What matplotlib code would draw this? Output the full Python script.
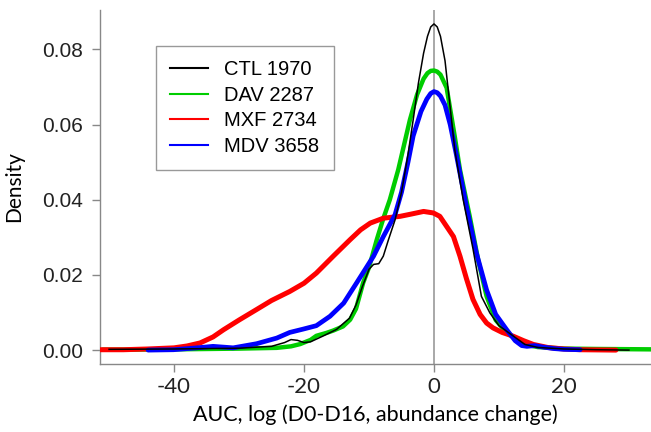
import matplotlib
matplotlib.use("Agg")
import matplotlib.pyplot as plt
from matplotlib.lines import Line2D

plt.rcParams['axes.unicode_minus'] = False

# CTL 1970
ctl_x = [-50, -40, -30, -25, -23, -22, -21, -20, -19, -17, -15, -13, -12, -11, -10, -9.3, -8.5,
         -7.8, -7, -6, -5, -4, -3.2, -2.4, -1.6, -1.0, -0.5, 0, 0.5, 1.0, 1.7, 2.7, 3.2, 4.5,
         6, 7.3, 8.6, 10, 12, 14, 16, 20, 25, 30]
ctl_y = [0.0002, 0.0003, 0.0005, 0.001, 0.002, 0.0028, 0.0026, 0.002, 0.0022, 0.0038, 0.0055,
         0.0085, 0.012, 0.017, 0.0215, 0.0228, 0.023, 0.025, 0.0294, 0.0346, 0.042, 0.052,
         0.0613, 0.071, 0.079, 0.0835, 0.0860, 0.0868, 0.0860, 0.0835, 0.077, 0.0613, 0.0533,
         0.040, 0.027, 0.0143, 0.0099, 0.0065, 0.004, 0.0015, 0.0007, 0.0003, 0.0001, 0.0]

# DAV 2287
dav_x = [-51, -40, -30, -24.2, -22, -20.6, -19, -18.1, -16.5, -15.5, -14, -12.9, -12, -10.9,
         -10, -8.8, -7.8, -6.8, -5.5, -3.7, -2.6, -1.6, -1.0, -0.5, 0, 0.5, 1.0, 1.95, 3.2,
         4.0, 5.5, 6.8, 8.1, 9.5, 11, 12.5, 14, 16, 20, 25, 33.4]
dav_y = [0.0001, 0.0002, 0.0004, 0.0006, 0.0010, 0.0016, 0.0027, 0.0038, 0.0046, 0.0052,
         0.0063, 0.0081, 0.011, 0.0179, 0.022, 0.0294, 0.035, 0.040, 0.048, 0.0613, 0.068,
         0.0722, 0.0737, 0.0743, 0.0744, 0.0741, 0.0733, 0.0698, 0.0568, 0.048, 0.0356,
         0.024, 0.0143, 0.008, 0.005, 0.003, 0.0015, 0.0008, 0.0004, 0.0003, 0.0002]

# MXF 2734
mxf_x = [-51.4, -47.8, -44, -40, -38, -36, -34, -32.4, -30, -27.3, -25, -22.2, -20, -18.1,
         -15.5, -12.9, -11.3, -9.8, -7.8, -5.2, -3.5, -1.6, -0.1, 0.9, 1.6, 3.0, 4.0, 5.0,
         6.0, 7.1, 8.1, 9.1, 10.5, 12.2, 13.8, 15.3, 17.5, 20, 22.5, 28]
mxf_y = [0.0001, 0.0001, 0.0003, 0.0006, 0.0011, 0.0019, 0.0035, 0.0054, 0.008, 0.0108,
         0.0132, 0.0156, 0.0178, 0.0205, 0.025, 0.0294, 0.032, 0.0338, 0.0351, 0.0356,
         0.0362, 0.0369, 0.0365, 0.0356, 0.0338, 0.0302, 0.025, 0.019, 0.0135, 0.0095,
         0.0072, 0.0059, 0.0047, 0.0037, 0.0025, 0.0015, 0.0007, 0.0003, 0.0001, 0.0]

# MDV 3658
mdv_x = [-44, -40.1, -36.5, -34, -30.9, -27.3, -24.2, -22.2, -20.1, -18.1, -16, -13.9, -11.9,
         -9.3, -7.8, -6, -5, -4, -3.2, -2, -1.1, -0.5, 0, 0.5, 1.0, 1.7, 2.5, 3.4, 5.0, 6.5,
         8.1, 9.5, 11.2, 12.5, 13.5, 14.3, 15.5, 16.8, 18.5, 20, 22.5]
mdv_y = [0.0, 0.0001, 0.0006, 0.001, 0.0006, 0.0017, 0.0032, 0.0047, 0.0056, 0.0065, 0.009,
         0.0125, 0.0179, 0.025, 0.0302, 0.036, 0.042, 0.050, 0.057, 0.0635, 0.0668, 0.0683,
         0.0688, 0.0685, 0.0676, 0.0652, 0.060, 0.0524, 0.0382, 0.026, 0.016, 0.0095, 0.0054,
         0.0025, 0.0012, 0.001, 0.0012, 0.0008, 0.0004, 0.0002, 0.0001]

labels = ['CTL 1970', 'DAV 2287', 'MXF 2734', 'MDV 3658']
colors = ['black', '#00cd00', '#ff0000', '#0000ff']

fig = plt.figure(figsize=(6.51, 4.32), dpi=100)
ax = fig.add_axes([0.1536, 0.1574, 0.8464, 0.8194])

grey = '#888888'
ax.axvline(0, color='#999999', lw=1.2, zorder=1)

ax.plot(dav_x, dav_y, color=colors[1], lw=3.2, solid_capstyle='round', zorder=2)
ax.plot(mxf_x, mxf_y, color=colors[2], lw=3.6, solid_capstyle='round', zorder=3)
ax.plot(mdv_x, mdv_y, color=colors[3], lw=3.4, solid_capstyle='round', zorder=4)
ax.plot(ctl_x, ctl_y, color=colors[0], lw=1.1, zorder=5)

ax.set_xlim(-51.4, 33.4)
ax.set_ylim(-0.0037, 0.0905)
ax.set_xticks([-40, -20, 0, 20])
ax.set_yticks([0.0, 0.02, 0.04, 0.06, 0.08])
ax.set_yticklabels(['0.00', '0.02', '0.04', '0.06', '0.08'], fontsize=15,
                   family='Liberation Sans')
ax.set_xticklabels(['-40', '-20', '0', '20'], fontsize=16, family='Lato')

for s in ['top', 'right']:
    ax.spines[s].set_visible(False)
for s in ['left', 'bottom']:
    ax.spines[s].set_color(grey)
    ax.spines[s].set_linewidth(1.0)
ax.tick_params(axis='both', color=grey, length=6, width=1.0, labelcolor='#222222')
ax.tick_params(axis='y', pad=6)
ax.tick_params(axis='x', pad=3)

ax.set_ylabel('Density', fontsize=15, family='Lato', labelpad=13)
ax.set_xlabel('AUC, log (D0-D16, abundance change)', fontsize=15.5, family='Lato',
              labelpad=6)

handles = [Line2D([], [], color=c, lw=1.5) for c in colors]
leg = ax.legend(handles, labels, loc='upper left', bbox_to_anchor=(0.1016, 0.898),
                fancybox=False, framealpha=1, edgecolor='#999999',
                prop={'family': 'Liberation Sans', 'size': 14.5},
                handlelength=1.9, handletextpad=0.8, labelspacing=0.32,
                borderpad=0.7, borderaxespad=0)
leg.get_frame().set_linewidth(1.0)

fig.savefig('out.png', dpi=100)
